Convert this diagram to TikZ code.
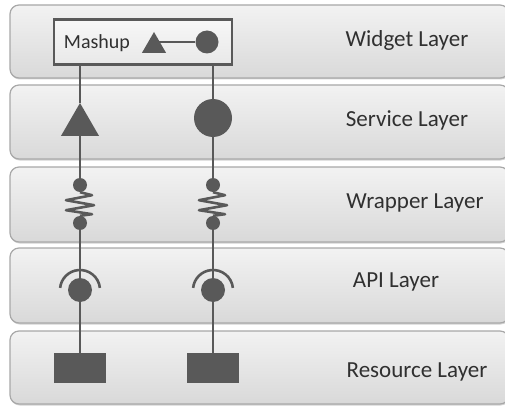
\documentclass[tikz,border=0pt]{standalone}
\usepackage{fontspec}
\setmainfont{Carlito}
\usetikzlibrary{shapes.geometric,shadows,calc}
\pgfdeclarelayer{bg}
\pgfdeclarelayer{mid}
\pgfsetlayers{bg,mid,main}
\definecolor{ink}{HTML}{595959}
\definecolor{txt}{HTML}{303030}
\definecolor{edge}{HTML}{A8A8A8}
\begin{document}
\begin{tikzpicture}[x=1pt,y=-1pt,
  layerbox/.style={draw=edge,line width=1.2pt,rounded corners=9pt,top color=white!90!gray,bottom color=gray!30,
    drop shadow={shadow xshift=0.6pt,shadow yshift=-1.5pt,opacity=0.35}},
  layerlabel/.style={text=txt,font=\fontsize{23}{26}\selectfont,inner sep=0pt},
  conn/.style={draw=ink,line width=2.6pt},
  tri/.style={regular polygon,regular polygon sides=3,fill=ink,inner sep=0pt},
  dot/.style={circle,fill=ink,inner sep=0pt},
  res/.style={rectangle,fill=ink,inner sep=0pt,minimum width=52pt,minimum height=30pt}]
\useasboundingbox (0,0) rectangle (505,406);
\begin{pgfonlayer}{bg}
\begin{scope}
\clip (0,0) rectangle (505,406);
\path[layerbox] (10,5) rectangle (509,78);
\path[layerbox] (10,85) rectangle (509,159);
\path[layerbox] (10,167) rectangle (509,242);
\path[layerbox] (10,248) rectangle (509,323);
\path[layerbox] (10,331) rectangle (509,404);
\end{scope}
% mashup box
\node[draw=ink,line width=2.2pt,top color=white!94!gray,bottom color=gray!18,minimum width=178pt,minimum height=45pt,inner sep=0pt,
  drop shadow={shadow xshift=0.6pt,shadow yshift=-1.5pt,opacity=0.35}] (mash) at (143,42) {};
\end{pgfonlayer}
\node[layerlabel] (lw) at (407,40) {Widget Layer};
\node[layerlabel] (ls) at (407,120) {Service Layer};
\node[layerlabel] (lr) at (415,203) {Wrapper Layer};
\node[layerlabel] (la) at (396,282) {API Layer};
\node[layerlabel] (lres) at (417,372) {Resource Layer};
\node[text=txt,font=\fontsize{20}{23}\selectfont,inner sep=0pt] (mtext) at (97,43) {Mashup};
\node[tri,minimum size=28pt] (mtri) at (154,46) {};
\node[dot,minimum size=23pt] (mcirc) at (207,42) {};
% service layer shapes
\node[tri,minimum size=44pt] (stri) at (80,125) {};
\node[dot,minimum size=38pt] (scirc) at (213,118) {};
% wrapper
\node[dot,minimum size=14pt] (wt1) at (80,185) {};
\node[dot,minimum size=14pt] (wb1) at (80,223) {};
\node[dot,minimum size=14pt] (wt2) at (213,185) {};
\node[dot,minimum size=14pt] (wb2) at (213,223) {};
% api
\node[dot,minimum size=24pt] (a1) at (80,290) {};
\node[dot,minimum size=24pt] (a2) at (213,290) {};
% resources
\node[res] (r1) at (80,368) {};
\node[res] (r2) at (213,368) {};
% connectors
\begin{pgfonlayer}{mid}
\draw[conn] (mcirc) -- (mcirc -| mtri.center);
\end{pgfonlayer}
\draw[conn] (mash.south -| stri.center) -- (stri);
\draw[conn] (mash.south -| scirc.center) -- (scirc);
\draw[conn] (stri) -- (wt1);
\draw[conn] (scirc) -- (wt2);
\draw[conn] (wb1) -- (a1);
\draw[conn] (wb2) -- (a2);
\draw[conn] (a1) -- (r1);
\draw[conn] (a2) -- (r2);
\foreach \t/\b in {wt1/wb1,wt2/wb2}{
  \draw[draw=ink,line width=2.6pt,line join=round]
    (\t.south) -- ++(12,3) -- ++(-26,5) -- ++(28,5) -- ++(-28,5) -- ++(26,4) -- (\b.north);
}
\foreach \a in {a1,a2}{
  \draw[draw=ink,line width=2.6pt] (\a.center) ++(-6:20) arc[start angle=-6,end angle=-174,radius=20];
}
\end{tikzpicture}
\end{document}
